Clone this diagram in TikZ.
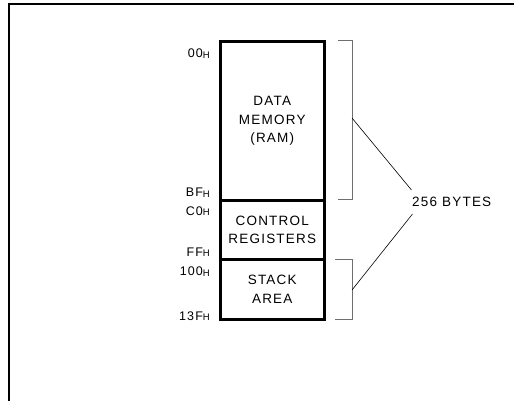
\documentclass[tikz,border=0pt]{standalone}
\usepackage{fontspec}
\usepackage{xcolor}
\usetikzlibrary{positioning}
\setmainfont{Liberation Sans}
\newfontfamily\bodyfont{Liberation Sans}[LetterSpace=9]
\newfontfamily\addrfont{Liberation Sans}[LetterSpace=9]
\definecolor{bracegray}{RGB}{110, 110, 110}
\newcommand{\hx}[1]{#1\raisebox{-0.7pt}{\fontsize{9.5}{9.5}\selectfont H}}

\begin{document}
\begin{tikzpicture}[x=1pt, y=-1pt,
		region/.style={draw, line width=3pt, outer sep=0pt, inner sep=0pt, minimum width=104.5pt, align=center, font=\bodyfont\fontsize{13.5}{18.5}\selectfont},
		addr/.style={anchor=base east, inner sep=0pt, font=\addrfont\fontsize{12.5}{12.5}\selectfont},
		bracket/.style={bracegray, line width=0.8pt},
		leader/.style={black, line width=0.6pt}]
			\useasboundingbox (0,0) rectangle (514,401);
			\draw[line width=2pt] (9,401) -- (9,4) -- (514,4);
			\node[region, minimum height=158pt] (data) at (272.25,121) {DATA\\MEMORY\\(RAM)};
			\node[region, minimum height=59.5pt, below=0pt of data] (ctrl) {CONTROL\\REGISTERS};
			\node[region, minimum height=60pt, below=0pt of ctrl] (stack) {STACK\\AREA};
			\node[addr] (a00) at (210,57.7) {\hx{00}};
			\node[addr] (abf) at (210,196.7) {\hx{BF}};
			\node[addr] (ac0) at (210,215) {\hx{C0}};
			\node[addr] (aff) at (210,256) {\hx{FF}};
			\node[addr] (a100) at (210,275.5) {\hx{100}};
			\node[addr] (a13f) at (210,320) {\hx{13F}};
			\draw[bracket] (338,40) -- (352,40) -- (352,199) -- (338,199);
			\draw[bracket] (335,259) -- (352,259) -- (352,319) -- (335,319);
			\coordinate (upmid) at (352,118);
			\coordinate (lowmid) at (352,290);
			\node[inner xsep=0.5pt, inner ysep=7pt, anchor=west, font=\bodyfont\fontsize{13.5}{13.5}\selectfont] (bytes) at (411.5,202) {256 BYTES};
			\draw[leader] (upmid) -- (bytes.north west);
			\draw[leader] (lowmid) -- ([xshift=1pt]bytes.south west);
		\end{tikzpicture}
\end{document}
